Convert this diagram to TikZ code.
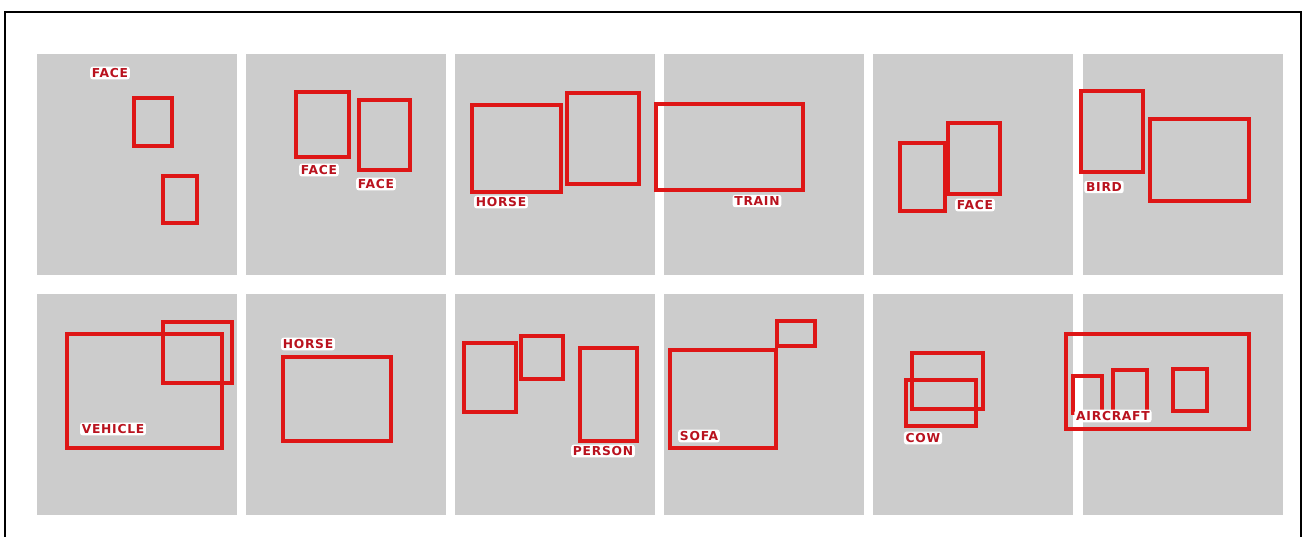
\documentclass[tikz,border=0pt]{standalone}
\usepackage{fontspec}
\newfontfamily\lblfont[LetterSpace=6]{DejaVu Sans}
\usepackage{xcolor}
\usepackage{tikz}
\usetikzlibrary{positioning}
\definecolor{panelgray}{RGB}{204,204,204}
\definecolor{boxred}{RGB}{222,22,22}
\definecolor{lblred}{RGB}{185,18,30}
\newcommand{\lbltext}[1]{\lblfont\bfseries\fontsize{7}{8}\selectfont #1}

\begin{document}
\begin{tikzpicture}[
      x=0.02cm, y=-0.02cm,
      panel/.style={fill=panelgray, draw=none},
      bbox/.style={draw=boxred, line width=2.1pt},
      lbl/.style={fill=white, rounded corners=1.5pt, inner sep=1pt, text=lblred, font=\lbltext}
    ]
      \useasboundingbox (0,0) rectangle (1306,537);
      \clip (0,0) rectangle (1306,537);
      \draw[line width=0.7pt] (5,12) rectangle (1301,560);
      % grey image tiles, two rows of six
      \foreach \i in {0,...,5} {
        \fill[panel] (37+209.1*\i,54) rectangle ++(200,221);
        \fill[panel] (37+209.1*\i,294) rectangle ++(200,221);
      }
      % top row
      \draw[bbox] (134,98) rectangle (172,146);
      \draw[bbox] (163,176) rectangle (197,223);
      \node[lbl] (face1) at (110,73) {FACE};
      \draw[bbox] (296,92) rectangle (349,157);
      \draw[bbox] (359,100) rectangle (410,170);
      \node[lbl] (face2) at (319,170) {FACE};
      \node[lbl] (face3) at (376,184) {FACE};
      \draw[bbox] (472,105) rectangle (561,192);
      \draw[bbox] (567,93) rectangle (639,184);
      \node[lbl] (horse1) at (501,202) {HORSE};
      \draw[bbox] (656,104) rectangle (803,190);
      \node[lbl] (train) at (757,201) {TRAIN};
      \draw[bbox] (900,143) rectangle (945,211);
      \draw[bbox] (948,123) rectangle (1000,194);
      \node[lbl] (face4) at (975,205) {FACE};
      \draw[bbox] (1081,91) rectangle (1143,172);
      \draw[bbox] (1150,119) rectangle (1249,201);
      \node[lbl] (bird) at (1104,187) {BIRD};
      % bottom row
      \draw[bbox] (67,334) rectangle (222,448);
      \draw[bbox] (163,322) rectangle (232,383);
      \node[lbl] (vehicle) at (113,429) {VEHICLE};
      \draw[bbox] (283,357) rectangle (391,441);
      \node[lbl] (horse2) at (308,344) {HORSE};
      \draw[bbox] (464,343) rectangle (516,412);
      \draw[bbox] (521,336) rectangle (563,379);
      \draw[bbox] (580,348) rectangle (637,441);
      \node[lbl] (person) at (603,451) {PERSON};
      \draw[bbox] (670,350) rectangle (776,448);
      \draw[bbox] (777,321) rectangle (815,346);
      \node[lbl] (sofa) at (699,436) {SOFA};
      \draw[bbox] (912,353) rectangle (983,409);
      \draw[bbox] (906,380) rectangle (976,426);
      \node[lbl] (cow) at (923,438) {COW};
      \draw[bbox] (1066,334) rectangle (1249,429);
      \draw[bbox] (1073,376) rectangle (1102,413);
      \draw[bbox] (1113,370) rectangle (1147,413);
      \draw[bbox] (1173,369) rectangle (1207,411);
      \node[lbl] (aircraft) at (1113,416) {AIRCRAFT};
    \end{tikzpicture}
\end{document}
